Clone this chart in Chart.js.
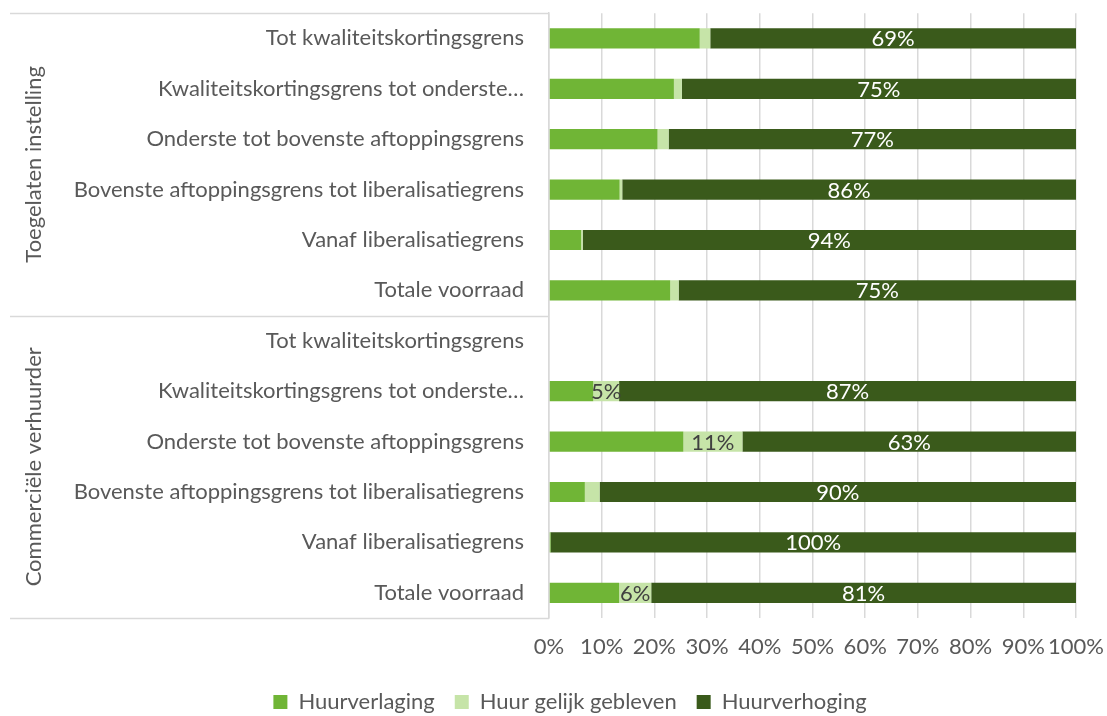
<!DOCTYPE html>
<html>
<head>
<meta charset="utf-8">
<script src="https://cdn.jsdelivr.net/npm/chart.js@4"></script>
<style>
  html, body { margin: 0; padding: 0; background: #fff; }
  #wrap { width: 1107px; height: 716px; position: relative; }
</style>
</head>
<body>
<div id="wrap"><canvas id="chartHuur"></canvas></div>
<script>
// categories, top to bottom
const categories = [
    "Tot kwaliteitskortingsgrens",
    "Kwaliteitskortingsgrens tot onderste…",
    "Onderste tot bovenste aftoppingsgrens",
    "Bovenste aftoppingsgrens tot liberalisatiegrens",
    "Vanaf liberalisatiegrens",
    "Totale voorraad",
    "Tot kwaliteitskortingsgrens",
    "Kwaliteitskortingsgrens tot onderste…",
    "Onderste tot bovenste aftoppingsgrens",
    "Bovenste aftoppingsgrens tot liberalisatiegrens",
    "Vanaf liberalisatiegrens",
    "Totale voorraad"
];
const groups = ["Toegelaten instelling", "Commerciële verhuurder"];
const groupSize = 6;

// percentages per series
const huurverlaging = [28.6, 23.7, 20.6, 13.4, 6.1, 23.0, null, 8.4, 25.5, 6.8, 0.3, 13.3];
const huurGelijk    = [2.0, 1.5, 2.1, 0.5, 0.3, 1.6, null, 4.9, 11.2, 2.8, 0, 6.1];
const huurverhoging = [69.4, 74.8, 77.3, 86.1, 93.6, 75.4, null, 86.7, 63.3, 90.4, 99.7, 80.6];

const xTicks = [0, 10, 20, 30, 40, 50, 60, 70, 80, 90, 100];

const FONT = "Lato";
const SIZE = 22;
const TEXT = "#595959";
const GRID = "#d9d9d9";

// value labels inside the bars
const barLabels = {
    id: "barLabels",
    afterDatasetsDraw(chart) {
        const ctx = chart.ctx;
        ctx.save();
        ctx.font = SIZE + "px " + FONT;
        ctx.textAlign = "center";
        ctx.textBaseline = "middle";
        chart.data.datasets.forEach((ds, di) => {
            if (!ds.showLabel) return;
            chart.getDatasetMeta(di).data.forEach((bar, i) => {
                const v = ds.data[i];
                if (v == null || v < ds.minLabel) return;
                ctx.fillStyle = ds.labelColor;
                ctx.fillText(Math.round(v) + "%", (bar.x + bar.base) / 2, bar.y + 1);
            });
        });
        ctx.restore();
    }
};

// group boxes and rotated group names on the left
const groupAxis = {
    id: "groupAxis",
    afterDraw(chart) {
        const ctx = chart.ctx;
        const y = chart.scales.y;
        const area = chart.chartArea;
        const step = y.getPixelForValue(1) - y.getPixelForValue(0);
        ctx.save();
        ctx.strokeStyle = GRID;
        ctx.lineWidth = 1.5;
        for (let g = 0; g <= groups.length; g++) {
            const py = Math.round(y.getPixelForValue(g * groupSize) - step / 2) + 0.5;
            ctx.beginPath();
            ctx.moveTo(10, py);
            ctx.lineTo(area.left, py);
            ctx.stroke();
        }
        ctx.fillStyle = TEXT;
        ctx.font = SIZE + "px " + FONT;
        ctx.textAlign = "center";
        ctx.textBaseline = "middle";
        groups.forEach((name, g) => {
            const mid = (y.getPixelForValue(g * groupSize) + y.getPixelForValue(g * groupSize + groupSize - 1)) / 2;
            ctx.save();
            ctx.translate(34, mid);
            ctx.rotate(-Math.PI / 2);
            ctx.fillText(name, 0, 0);
            ctx.restore();
        });
        ctx.restore();
    }
};

const chartCtx = document.getElementById("chartHuur").getContext("2d");

new Chart(chartCtx, {
    type: "bar",
    data: {
        labels: categories,
        datasets: [
            { label: "Huurverlaging", data: huurverlaging, backgroundColor: "#70b536", showLabel: false },
            { label: "Huur gelijk gebleven", data: huurGelijk, backgroundColor: "#c6e4a8", showLabel: true, minLabel: 4.5, labelColor: "#404040" },
            { label: "Huurverhoging", data: huurverhoging, backgroundColor: "#3a5a1b", showLabel: true, minLabel: 0, labelColor: "#ffffff" }
        ]
    },
    options: {
        indexAxis: "y",
        responsive: true,
        maintainAspectRatio: false,
        animation: false,
        datasets: {
            bar: { barPercentage: 0.4, categoryPercentage: 1.0, borderWidth: 0 }
        },
        // left padding shifts the centred legend like in the original
        layout: { padding: { top: 13, right: 31, left: 64, bottom: -7 } },
        plugins: {
            legend: {
                position: "bottom",
                labels: {
                    font: { family: FONT, size: SIZE },
                    color: TEXT,
                    boxWidth: 14,
                    boxHeight: 14,
                    padding: 20
                }
            },
            tooltip: { enabled: false }
        },
        scales: {
            x: {
                stacked: true,
                min: 0,
                max: 100,
                afterBuildTicks: s => { s.ticks = xTicks.map(v => ({ value: v })); },
                afterFit: s => { s.height = 53; },
                ticks: {
                    font: { family: FONT, size: SIZE },
                    color: TEXT,
                    padding: 2,
                    autoSkip: false,
                    maxRotation: 0,
                    minRotation: 0,
                    callback: v => v + "%"
                },
                grid: { color: GRID, lineWidth: 1.5, drawTicks: true, tickLength: 14, tickColor: "rgba(0,0,0,0)" },
                border: { display: false }
            },
            y: {
                stacked: true,
                afterFit: s => { s.width = 485; },
                ticks: {
                    font: { family: FONT, size: SIZE },
                    color: TEXT,
                    padding: 0,
                    autoSkip: false
                },
                grid: { display: true, drawOnChartArea: false, drawTicks: true, tickLength: 25, tickColor: "rgba(0,0,0,0)" },
                border: { display: true, color: GRID, width: 1.5 }
            }
        }
    },
    plugins: [barLabels, groupAxis]
});
</script>
</body>
</html>
